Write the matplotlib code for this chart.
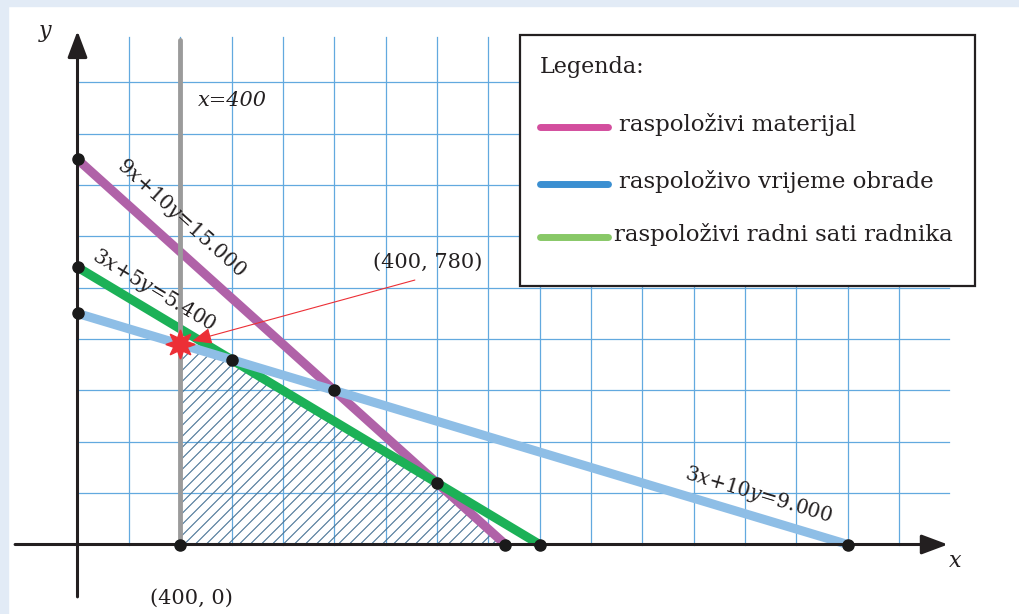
import numpy as np
import matplotlib.pyplot as plt
from matplotlib.patches import Polygon, Rectangle

# constraints a*x + b*y = c
labels_eq = ['9$x$+10$y$=15.000', '3$x$+5$y$=5.400', '3$x$+10$y$=9.000']
coef_a = [9, 3, 3]
coef_b = [10, 5, 10]
coef_c = [15000, 5400, 9000]
line_colors = ['#b062a8', '#1cb157', '#8ebee6']

legend_labels = ['raspoloživi materijal', 'raspoloživo vrijeme obrade', 'raspoloživi radni sati radnika']
legend_colors = ['#d34e9e', '#3b8fd1', '#88c867']

x_min = 400
feasible = [(400, 0), (400, 780), (600, 720), (1400, 240), (1666.7, 0)]
dots = [(0, 1500), (0, 1080), (0, 900), (400, 0), (1666.7, 0), (1800, 0), (3000, 0),
        (600, 720), (1000, 600), (1400, 240)]
optimum = (400, 780)

grid_x = np.arange(200, 3201, 200)
grid_y = np.arange(200, 1801, 200)

W, H = 1019, 614
ox, oy = 77.5, 544.5
unit = 200 / 51.35

plt.rcParams['font.family'] = ['DejaVu Serif']
plt.rcParams['mathtext.fontset'] = 'dejavuserif'

fig = plt.figure(figsize=(W / 100, H / 100), dpi=100)
fig.patch.set_facecolor('white')
ax = fig.add_axes([0, 0, 1, 1])
ax.set_xlim(-ox * unit, (W - ox) * unit)
ax.set_ylim(-(H - oy) * unit, oy * unit)
ax.set_axis_off()

# page frame (top and left bands)
fig.patches.append(Rectangle((0, 1 - 6 / H), 1, 6 / H, transform=fig.transFigure, color='#e2ebf6', zorder=0))
fig.patches.append(Rectangle((0, 0), 8 / W, 1, transform=fig.transFigure, color='#e2ebf6', zorder=0))

# grid
for gx in grid_x:
    ax.plot([gx, gx], [0, 1977], color='#62a9df', lw=0.9, zorder=1)
for gy in grid_y:
    ax.plot([0, 3394], [gy, gy], color='#62a9df', lw=0.9, zorder=1)

# feasible region with hatching
poly = Polygon(feasible, closed=True, facecolor='none', edgecolor='none', zorder=2)
ax.add_patch(poly)
step = 11 * unit
for c in np.arange(-2000, 800, step):
    ln, = ax.plot([0, 2000], [c, c + 2000], color='#4a7596', lw=0.8, zorder=2)
    ln.set_clip_path(poly)

# constraint lines
for a, b, c, col in zip(coef_a, coef_b, coef_c, line_colors):
    ax.plot([0, c / a], [c / b, 0], color=col, lw=6.5, solid_capstyle='butt', zorder=3)

# x = 400
ax.plot([x_min, x_min], [0, 1965], color='#9b9b9b', lw=3.5, solid_capstyle='round', zorder=4)

# axes with arrows
ax.annotate('', xy=(3390, 0), xytext=(-243, 0),
            arrowprops=dict(arrowstyle='-|>,head_length=0.8,head_width=0.3', lw=2.2,
                            color='#231f20', mutation_scale=20, shrinkA=0, shrinkB=0), zorder=5)
ax.annotate('', xy=(0, 2000), xytext=(0, -204),
            arrowprops=dict(arrowstyle='-|>,head_length=0.8,head_width=0.3', lw=2.2,
                            color='#231f20', mutation_scale=20, shrinkA=0, shrinkB=0), zorder=5)

# points
dx, dy = zip(*dots)
ax.plot(dx, dy, 'o', color='#1a1a1a', ms=8, zorder=6)

# optimum marker + pointer
ax.plot(*optimum, marker=(8, 1, 0), color='#ec2f36', ms=21, zorder=7)
ax.annotate('', xy=optimum, xytext=(1314, 1030),
            arrowprops=dict(arrowstyle='-|>,head_length=0.6,head_width=0.25', color='#ec2f36',
                            lw=0.8, mutation_scale=20, shrinkA=0, shrinkB=9), zorder=8)
ax.text(428 / W, 1 - 262 / H, '(400, 780)', transform=ax.transAxes, fontsize=15,
        ha='center', va='center', color='#231f20')

# equation labels
label_pos = [(403, 1272), (298, 991), (2654, 192)]
for lab, a, b, pos in zip(labels_eq, coef_a, coef_b, label_pos):
    ang = -np.degrees(np.arctan2(a, b))
    ax.text(pos[0], pos[1], lab, fontsize=14.5, rotation=ang, rotation_mode='anchor',
            ha='center', va='center', color='#231f20', zorder=8)

ax.text(469, 1731, 'x=400', fontsize=15, style='italic', ha='left', va='center', color='#231f20')
ax.text(191.7 / W, 1 - 598 / H, '(400, 0)', transform=ax.transAxes, fontsize=15,
        ha='center', va='center', color='#231f20')
ax.text(955 / W, 1 - 561 / H, 'x', transform=ax.transAxes, fontsize=16, style='italic',
        ha='center', va='center', color='#231f20')
ax.text(45 / W, 1 - 31 / H, 'y', transform=ax.transAxes, fontsize=16, style='italic',
        ha='center', va='center', color='#231f20')

# legend box
ax.add_patch(Rectangle((520 / W, 1 - 286 / H), 455 / W, 251 / H, transform=ax.transAxes,
                       facecolor='white', edgecolor='#231f20', lw=1.6, zorder=9))
ax.text(540 / W, 1 - 73 / H, 'Legenda:', transform=ax.transAxes, fontsize=16,
        ha='left', va='baseline', color='#231f20', zorder=10)
leg_y = [127, 184, 237]
txt_x = [619, 619, 614]
for lab, col, yy, tx in zip(legend_labels, legend_colors, leg_y, txt_x):
    ax.plot([540 / W, 608 / W], [1 - yy / H, 1 - yy / H], transform=ax.transAxes,
            color=col, lw=5, solid_capstyle='round', zorder=10)
    ax.text(tx / W, 1 - (yy + 4) / H, lab, transform=ax.transAxes, fontsize=16.5,
            ha='left', va='baseline', color='#231f20', zorder=10)

fig.savefig('out.png', dpi=100)
